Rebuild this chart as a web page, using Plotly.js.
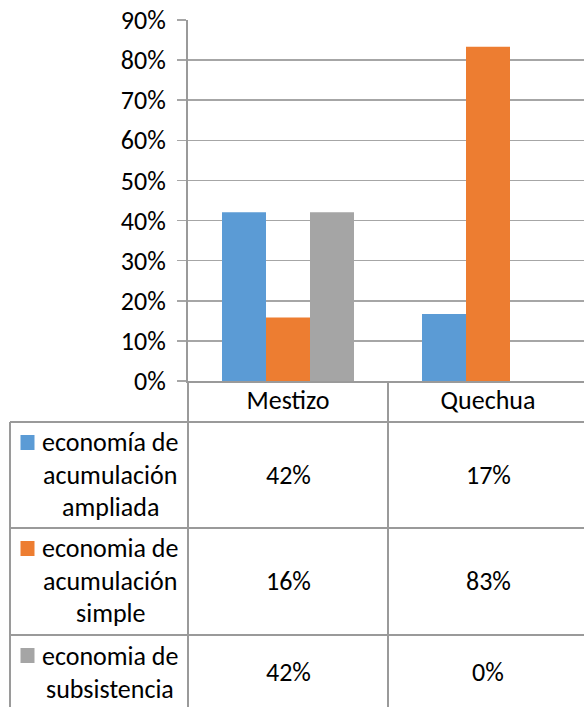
<!DOCTYPE html>
<html>
<head>
<meta charset="utf-8">
<script src="https://cdn.plot.ly/plotly-3.0.1.min.js"></script>
<style>
  html, body { margin: 0; padding: 0; background: #fff; }
  #chart { width: 584px; height: 707px; }
</style>
</head>
<body>
<div id="chart"></div>
<script>
const categories = ['Mestizo', 'Quechua'];
const seriesNames = ['economía de acumulación ampliada', 'economia de acumulación simple', 'economia de subsistencia'];
const seriesLabelLines = [
    ['economía de', 'acumulación', 'ampliada'],
    ['economia de', 'acumulación', 'simple'],
    ['economia de', 'subsistencia']
];
const ampliada = [0.421, 0.167];
const simple = [0.158, 0.833];
const subsistencia = [0.421, 0];
const seriesValues = [ampliada, simple, subsistencia];
const seriesColors = ['#5B9BD5', '#ED7D31', '#A5A5A5'];

const FONT = 'Carlito, Calibri, Lato, sans-serif';
const GRID = '#a6a6a6';
const LINE = '#9a9a9a';

// pixel layout of the plot area (Excel style chart with data table below)
const W = 584, H = 707;
const plotLeft = 188, plotTop = 20, plotBottom = 381;
const plotW = W - plotLeft, plotH = plotBottom - plotTop;
const px = x => (x - plotLeft) / plotW;
const py = y => (plotBottom - y) / plotH;

// table rows: [top, bottom] in pixels
const rows = [[422, 528], [528, 635], [635, 710]];
const lineStep = 32.5;

const data = seriesValues.map((vals, i) => ({
    type: 'bar',
    name: seriesNames[i],
    x: categories,
    y: vals,
    marker: { color: seriesColors[i], line: { width: 0 } },
    hoverinfo: 'none'
}));

const shapes = [];
const annotations = [];
const lineStyle = { color: LINE, width: 2 };

// vertical table lines
shapes.push({ type: 'line', xref: 'paper', yref: 'paper', x0: 0, x1: 0, y0: py(plotBottom), y1: py(H + 5), line: lineStyle });
shapes.push({ type: 'line', xref: 'x', yref: 'paper', x0: 0.5, x1: 0.5, y0: py(plotBottom), y1: py(H + 5), line: lineStyle });
shapes.push({ type: 'line', xref: 'paper', yref: 'paper', x0: px(10), x1: px(10), y0: py(rows[0][0]), y1: py(H + 5), line: lineStyle });
// horizontal table lines
rows.forEach(r => {
    shapes.push({ type: 'line', xref: 'paper', yref: 'paper', x0: px(10), x1: 1, y0: py(r[0]), y1: py(r[0]), line: lineStyle });
});

rows.forEach((r, i) => {
    // legend key
    shapes.push({
        type: 'rect', xref: 'paper', yref: 'paper',
        x0: px(20.5), x1: px(34.5), y0: py(r[0] + 13), y1: py(r[0] + 28),
        fillcolor: seriesColors[i], line: { width: 0 }
    });
    const lines = seriesLabelLines[i];
    const first = i === 2 ? r[0] + 21 : r[0] + 20;
    lines.forEach((t, k) => {
        annotations.push({
            xref: 'paper', yref: 'paper', x: px(110), y: py(first + k * lineStep),
            xanchor: 'center', yanchor: 'middle', showarrow: false,
            text: t, font: { family: FONT, size: 26, color: '#000' }
        });
    });
    const vmid = lines.length === 3 ? first + lineStep : first + lineStep / 2;
    categories.forEach((c, j) => {
        annotations.push({
            xref: 'x', yref: 'paper', x: c, y: py(vmid),
            xanchor: 'center', yanchor: 'middle', showarrow: false,
            text: Math.round(seriesValues[i][j] * 100) + '%',
            font: { family: FONT, size: 26, color: '#000' }
        });
    });
});

const layout = {
    width: W,
    height: H,
    autosize: false,
    margin: { l: plotLeft, r: 0, t: plotTop, b: H - plotBottom, pad: 0 },
    paper_bgcolor: '#fff',
    plot_bgcolor: '#fff',
    showlegend: false,
    barmode: 'group',
    bargap: 0.34,
    bargroupgap: 0,
    font: { family: FONT, size: 26, color: '#000' },
    xaxis: {
        type: 'category',
        range: [-0.5, -0.5 + plotW / 200],
        showgrid: false,
        zeroline: false,
        showline: true,
        linecolor: LINE,
        linewidth: 2,
        ticks: '',
        ticklabelstandoff: -5,
        tickfont: { family: FONT, size: 26, color: '#000' },
        automargin: false,
        fixedrange: true
    },
    yaxis: {
        range: [0, 0.9],
        dtick: 0.1,
        tick0: 0,
        tickformat: '.0%',
        showgrid: true,
        gridcolor: GRID,
        gridwidth: 1.5,
        zeroline: false,
        showline: true,
        linecolor: LINE,
        linewidth: 2,
        ticks: 'outside',
        ticklen: 9,
        tickwidth: 1.5,
        tickcolor: GRID,
        ticklabelstandoff: 6,
        tickfont: { family: FONT, size: 26, color: '#000' },
        automargin: false,
        fixedrange: true
    },
    shapes: shapes,
    annotations: annotations
};

Plotly.newPlot('chart', data, layout, { staticPlot: true, displayModeBar: false });
</script>
</body>
</html>
